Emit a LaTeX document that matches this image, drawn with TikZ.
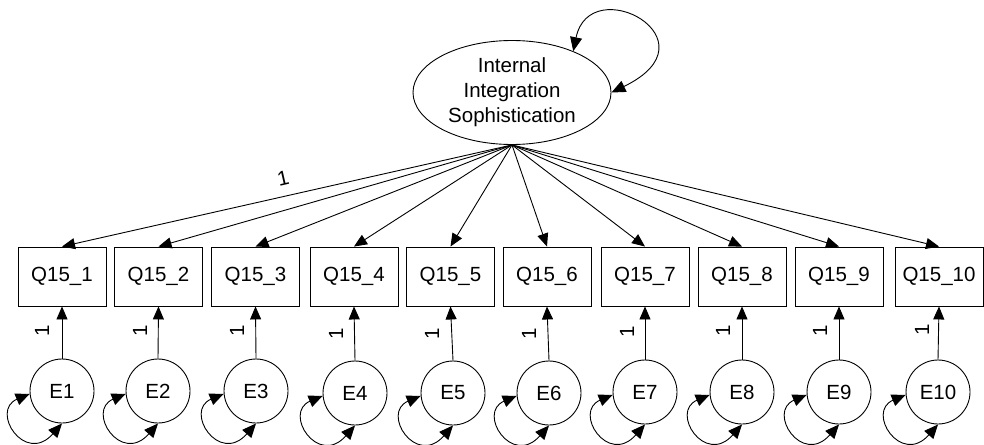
\documentclass[tikz,border=0pt]{standalone}
\usepackage{fontspec}
\setmainfont{Liberation Sans}
\usetikzlibrary{arrows.meta,shapes.geometric}
\begin{document}
\begin{tikzpicture}[x=1pt,y=-1pt,font=\fontsize{20.5}{25}\selectfont,line width=0.9pt,
  obs/.style={draw,minimum width=88pt,minimum height=59pt,inner sep=0pt},
  err/.style={draw,circle,minimum size=64pt,inner sep=0pt},
  lat/.style={draw,ellipse,minimum width=198pt,minimum height=104pt,inner sep=0pt,align=center},
  arr/.style={-{Triangle[length=13pt,width=11pt]}},
  darr/.style={{Triangle[length=14pt,width=12pt]}-{Triangle[length=14pt,width=12pt]}},
  wt/.style={inner sep=0pt}]
\useasboundingbox (0,0) rectangle (984,444);
% latent
\node[lat] (L) at (512,92.5) {Internal\\Integration\\Sophistication};
\draw[darr] (L.34) .. controls (590,-30) and (720,40) .. (L.east);
% observed
\foreach \i/\x in {1/62,2/158.5,3/255.5,4/354,5/450.5,6/547,7/645,8/742,9/839,10/939}{
  \node[obs] (Q\i) at (\x,276.5) {Q15\_\i};
}
% errors
\foreach \i/\x/\y in {1/62/391,2/158/391,3/256/391,4/355/393,5/453/393,6/549/393,7/645/392,8/742/392,9/839/392,10/938/392}{
  \node[err] (E\i) at (\x,\y) {E\i};
}
% loadings
\foreach \i in {1,...,10}{
  \draw[arr] (L.south) -- (Q\i.north);
  \draw[arr] (E\i.north) -- (Q\i.south);
  \draw[darr] (E\i.185) .. controls +(-40,17) and +(-37,42) .. (E\i.south);
}
% weights
\node[wt] (w0) at (283,178) {\rotatebox{13}{1}};
\foreach \i/\x/\y in {1/42/331,2/140/331,3/237/331,4/336/334,5/432/334,6/529/334,7/627/332,8/723/331,9/820/331,10/922/330}{
  \node[wt] (w\i) at (\x,\y) {\rotatebox{90}{1}};
}
\end{tikzpicture}
\end{document}
